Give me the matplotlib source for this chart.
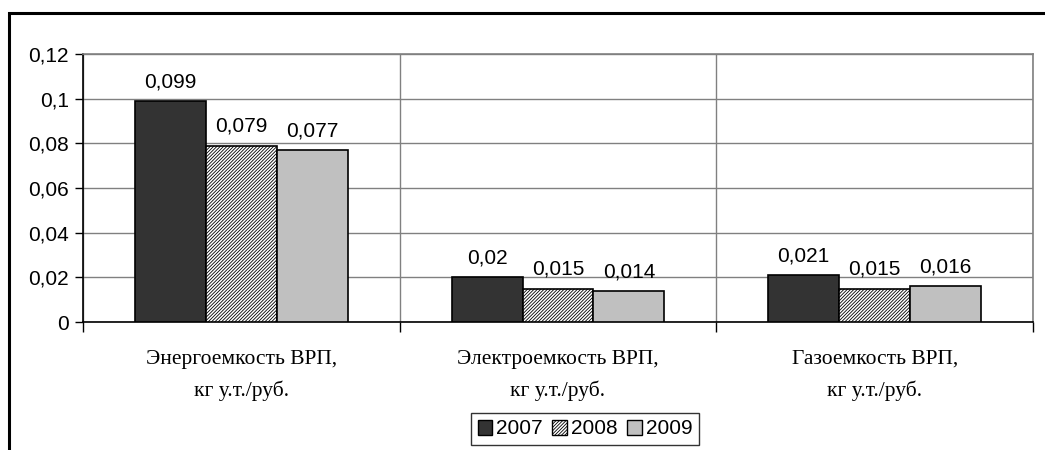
#!/usr/bin/env python3
"""Energy, electricity and gas intensity of GRP, 2007-2009 (grouped bars)."""

import matplotlib
matplotlib.use("Agg")

import matplotlib.pyplot as plt
from matplotlib.patches import Rectangle, Patch
import numpy as np

categories = [
    "Энергоемкость ВРП,\nкг у.т./руб.",
    "Электроемкость ВРП,\nкг у.т./руб.",
    "Газоемкость ВРП,\nкг у.т./руб.",
]
years = ["2007", "2008", "2009"]
values_2007 = [0.099, 0.020, 0.021]
values_2008 = [0.079, 0.015, 0.015]
values_2009 = [0.077, 0.014, 0.016]
y_ticks = [0, 0.02, 0.04, 0.06, 0.08, 0.1, 0.12]
y_tick_labels = ["0", "0,02", "0,04", "0,06", "0,08", "0,1", "0,12"]

plt.rcParams["font.family"] = ["Liberation Sans", "DejaVu Sans"]
plt.rcParams["hatch.linewidth"] = 0.6

W, H, DPI = 1045, 450, 100
fig = plt.figure(figsize=(W / DPI, H / DPI), dpi=DPI)
ax = fig.add_axes([83 / W, 1 - 322 / H, (1033 - 83) / W, (322 - 54) / H])

# outer frame of the chart object (runs off the right/bottom edge)
fig.patches.append(Rectangle((9 / W, -0.1), 1.2, 1 - 13 / H + 0.1,
                             transform=fig.transFigure, fill=False,
                             edgecolor="black", linewidth=2.2, zorder=0))

styles = [
    dict(facecolor="#333333", hatch=None),
    dict(facecolor="white", hatch="//////////"),
    dict(facecolor="#c0c0c0", hatch=None),
]
series = [values_2007, values_2008, values_2009]

x = np.arange(len(categories))
width = 0.224
handles = []
for i, (vals, st) in enumerate(zip(series, styles)):
    bars = ax.bar(x + (i - 1) * width, vals, width, facecolor=st["facecolor"],
                  hatch=st["hatch"], edgecolor="black", linewidth=1.2, zorder=3)
    labels = [f"{v:g}".replace(".", ",") for v in vals]
    ax.bar_label(bars, labels=labels, padding=7, fontsize=15)
    handles.append(Patch(facecolor=st["facecolor"], hatch=st["hatch"],
                         edgecolor="black", linewidth=1.0, label=years[i]))

ax.set_xlim(-0.5, 2.5)
ax.set_ylim(0, 0.12)
ax.set_yticks(y_ticks)
ax.set_yticklabels(y_tick_labels, fontsize=15)
ax.tick_params(axis="y", length=6, width=1, pad=4)

# category boundaries carry the ticks and vertical grid
ax.set_xticks([-0.5, 0.5, 1.5, 2.5])
ax.set_xticklabels([])
ax.tick_params(axis="x", which="major", length=7, width=1)
ax.set_xticks(x, minor=True)
ax.set_xticklabels(categories, minor=True, fontsize=15.5,
                   family=["Liberation Serif", "DejaVu Serif"],
                   linespacing=1.75)
ax.tick_params(axis="x", which="minor", length=0, pad=20)

ax.grid(True, which="major", color="#808080", linewidth=1.0, zorder=0)
ax.set_axisbelow(True)
for side in ("top", "right"):
    ax.spines[side].set_color("#808080")
    ax.spines[side].set_linewidth(1.2)
ax.spines["left"].set_linewidth(1.2)
ax.spines["bottom"].set_linewidth(1.2)

leg = fig.legend(handles=handles, loc="center", bbox_to_anchor=(585 / W, 1 - 429 / H),
                 ncol=3, fontsize=15, frameon=True, fancybox=False,
                 handlelength=0.7, handleheight=0.7, handletextpad=0.2,
                 columnspacing=0.45, borderpad=0.3, borderaxespad=0)
leg.get_frame().set_edgecolor("black")
leg.get_frame().set_linewidth(1.0)

fig.savefig("out.png", dpi=DPI)
